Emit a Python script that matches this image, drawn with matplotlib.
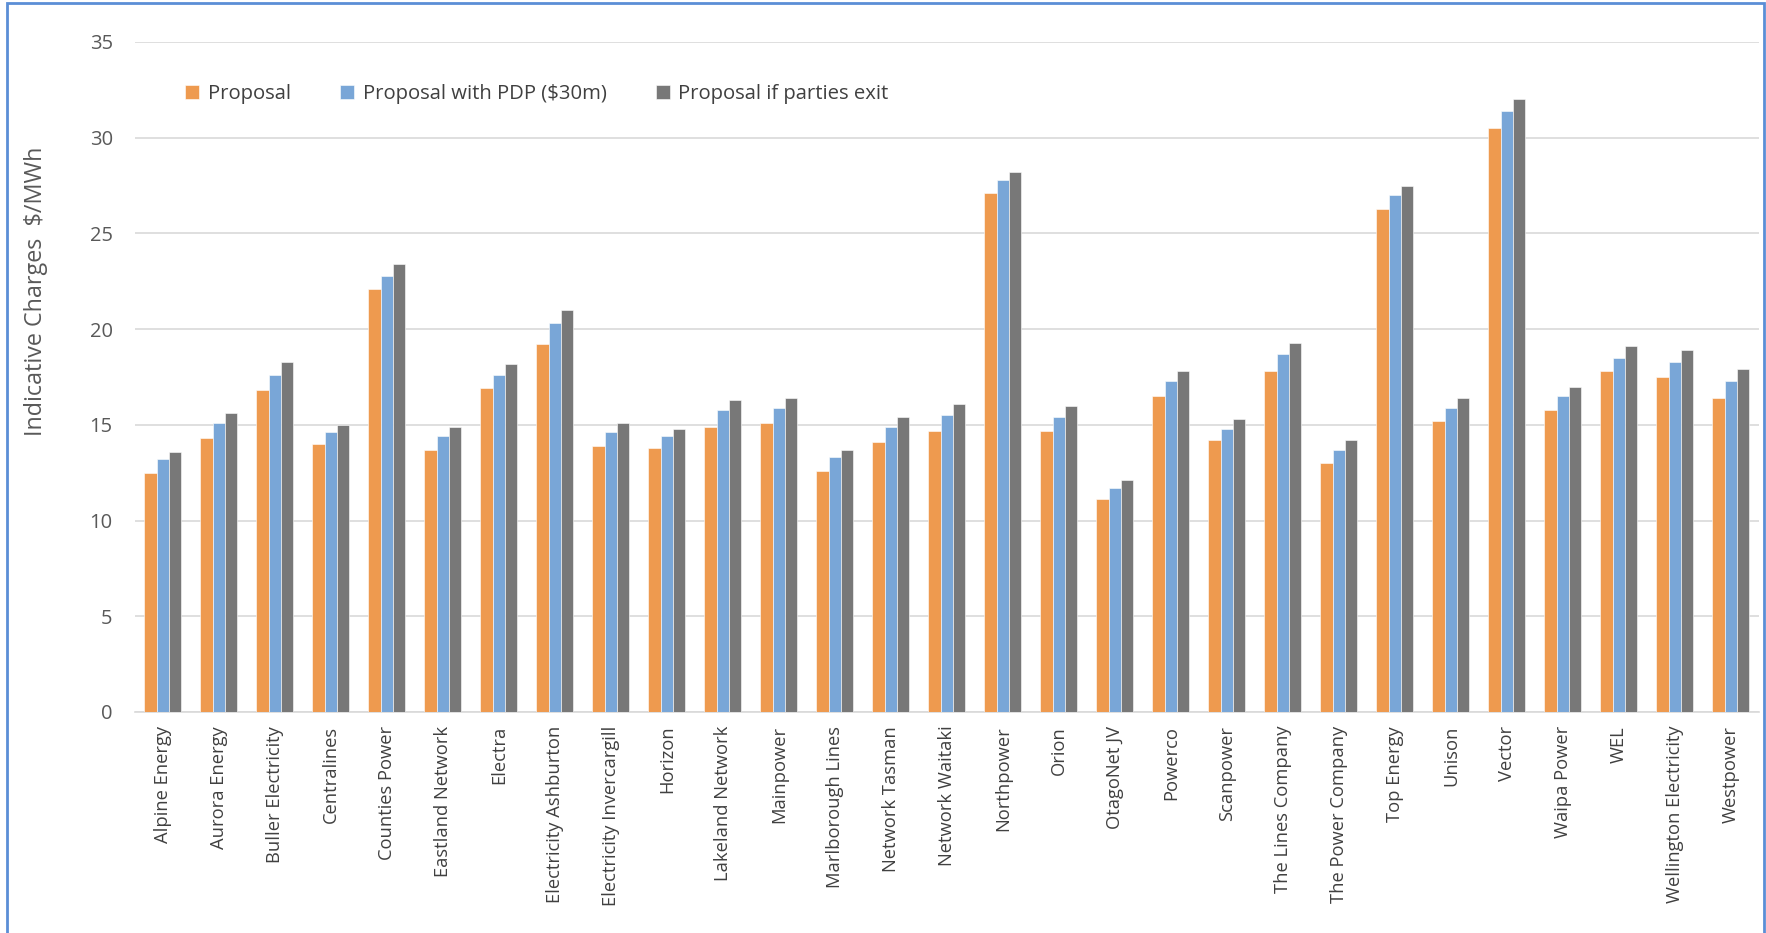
import numpy as np
import matplotlib.pyplot as plt
from matplotlib.patches import Rectangle

plt.rcParams['font.family'] = ['Open Sans', 'DejaVu Sans']

companies = ['Alpine Energy', 'Aurora Energy', 'Buller Electricity', 'Centralines', 'Counties Power',
             'Eastland Network', 'Electra', 'Electricity Ashburton', 'Electricity Invercargill', 'Horizon',
             'Lakeland Network', 'Mainpower', 'Marlborough Lines', 'Network Tasman', 'Network Waitaki',
             'Northpower', 'Orion', 'OtagoNet JV', 'Powerco', 'Scanpower', 'The Lines Company',
             'The Power Company', 'Top Energy', 'Unison', 'Vector', 'Waipa Power', 'WEL',
             'Wellington Electricity', 'Westpower']
proposal = [12.5, 14.3, 16.8, 14.0, 22.1, 13.7, 16.9, 19.2, 13.9, 13.8, 14.9, 15.1, 12.6, 14.1, 14.7,
            27.1, 14.7, 11.1, 16.5, 14.2, 17.8, 13.0, 26.3, 15.2, 30.5, 15.8, 17.8, 17.5, 16.4]
proposal_pdp = [13.2, 15.1, 17.6, 14.6, 22.8, 14.4, 17.6, 20.3, 14.6, 14.4, 15.8, 15.9, 13.3, 14.9, 15.5,
                27.8, 15.4, 11.7, 17.3, 14.8, 18.7, 13.7, 27.0, 15.9, 31.4, 16.5, 18.5, 18.3, 17.3]
proposal_exit = [13.6, 15.6, 18.3, 15.0, 23.4, 14.9, 18.2, 21.0, 15.1, 14.8, 16.3, 16.4, 13.7, 15.4, 16.1,
                 28.2, 16.0, 12.1, 17.8, 15.3, 19.3, 14.2, 27.5, 16.4, 32.0, 17.0, 19.1, 18.9, 17.9]
series_names = ['Proposal', 'Proposal with PDP ($30m)', 'Proposal if parties exit']
colors = ['#EE9A4F', '#79A6D7', '#787878']

fig = plt.figure(figsize=(17.66, 9.33), dpi=100)
ax = fig.add_axes([0.0764, 0.2369, 0.9196, 0.7181])

x = np.arange(len(companies))
w = 0.22
for i, (vals, name, c) in enumerate(zip([proposal, proposal_pdp, proposal_exit], series_names, colors)):
    ax.bar(x + (i - 1) * w, vals, width=w, color=c, label=name, edgecolor='white', linewidth=0.4, zorder=3)

ax.set_xlim(-0.5, len(companies) - 0.5)
ax.set_ylim(0, 35)
ax.set_yticks(range(0, 36, 5))
ax.grid(axis='y', color='#D9D9D9', linewidth=1.2, zorder=0)
for s in ['top', 'right', 'left']:
    ax.spines[s].set_visible(False)
ax.spines['bottom'].set_color('#D9D9D9')
ax.spines['bottom'].set_linewidth(1.2)
ax.set_xticks(x)
ax.set_xticklabels(companies, rotation=90, fontsize=13.2, color='#404040')
ax.tick_params(axis='x', length=0, pad=10)
ax.tick_params(axis='y', length=0, pad=16, labelsize=14.5, labelcolor='#595959')

ax.legend(loc='center left', bbox_to_anchor=(0.031, 0.922), ncol=3, frameon=False, fontsize=14.6,
          handlelength=0.7, handleheight=0.7, handletextpad=0.4, columnspacing=2.45,
          borderaxespad=0, borderpad=0, labelcolor='#404040')

fig.text(0.0204, 0.688, 'Indicative Charges  $/MWh', rotation=90, ha='center', va='center',
         fontsize=16.8, color='#595959')

# blue frame round the chart
fig.patches.append(Rectangle((0.0037, -0.01), 0.9953, 1.0065, transform=fig.transFigure,
                             fill=False, edgecolor='#5B8ED6', linewidth=2))

fig.savefig('out.png', dpi=100)
